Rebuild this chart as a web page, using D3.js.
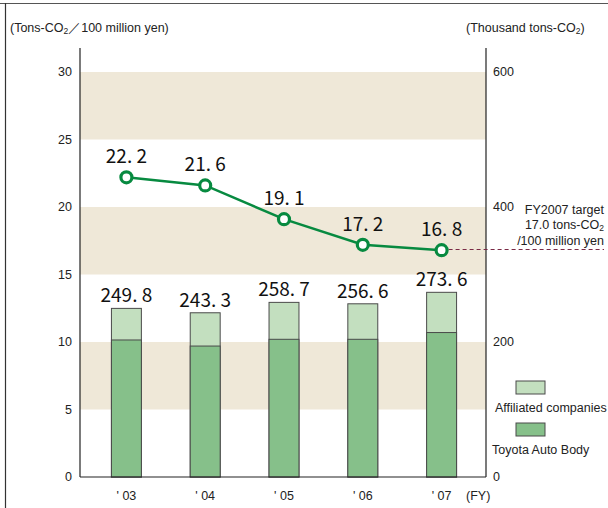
<!DOCTYPE html>
<html>
<head>
<meta charset="utf-8">
<script src="https://cdn.jsdelivr.net/npm/d3@7/dist/d3.min.js"></script>
<style>
  body { margin: 0; background: #fff; }
  svg { display: block; }
</style>
</head>
<body>
<svg id="chart"></svg>
<script>

// data
var years = ["03", "04", "05", "06", "07"];
var totalEmissions = [249.8, 243.3, 258.7, 256.6, 273.6];   // thousand tons-CO2
var toyotaAutoBody = [203, 194, 204, 204, 214];              // lower part of each bar
var intensity = [22.2, 21.6, 19.1, 17.2, 16.8];              // tons-CO2 / 100 million yen
var leftTicks = [0, 5, 10, 15, 20, 25, 30];
var rightTicks = [0, 200, 400, 600];
var bandRanges = [[5, 10], [15, 20], [25, 30]];
var target = 17.0;

var svgWidth = 608;
var svgHeight = 508;

var svg = d3.select("#chart")
    .attr("width", svgWidth)
    .attr("height", svgHeight);

var plotLeft = 80, plotRight = 486, plotTop = 72, plotBottom = 477;

var xScale = d3.scaleBand()
    .domain(years)
    .range([87, 481])
    .paddingInner(0.62)
    .paddingOuter(0.31);

var yLeft = d3.scaleLinear().domain([0, 30]).range([plotBottom, plotTop]);
var yRight = d3.scaleLinear().domain([0, 600]).range([plotBottom, plotTop]);

var numFont = "'Noto Sans CJK JP', 'DejaVu Sans', sans-serif";
var txtFont = "'Liberation Sans', Arial, sans-serif";
var txtSize = 12.5;

function fmt(v) {
    // labels in the picture show the decimal as ". " (wide gap)
    return v.toFixed(1).replace(".", ". ");
}

//frame lines (top and left only)
svg.append("line").attr("x1", 0).attr("x2", svgWidth).attr("y1", 3.5).attr("y2", 3.5)
    .attr("stroke", "#555").attr("stroke-width", 1);
svg.append("line").attr("x1", 5.5).attr("x2", 5.5).attr("y1", 3).attr("y2", svgHeight)
    .attr("stroke", "#333").attr("stroke-width", 1.2);

//background bands
svg.selectAll("rect.band")
    .data(bandRanges)
    .enter()
    .append("rect")
    .attr("class", "band")
    .attr("x", plotLeft)
    .attr("width", plotRight - plotLeft)
    .attr("y", d => yLeft(d[1]))
    .attr("height", d => yLeft(d[0]) - yLeft(d[1]))
    .attr("fill", "#efe8d8");

//bars - total (affiliated on top)
svg.selectAll("rect.total")
    .data(years)
    .enter()
    .append("rect")
    .attr("class", "total")
    .attr("x", d => xScale(d))
    .attr("width", xScale.bandwidth())
    .attr("y", (d, i) => yRight(totalEmissions[i]))
    .attr("height", (d, i) => plotBottom - yRight(totalEmissions[i]))
    .attr("fill", "#c3dfbf")
    .attr("stroke", "#4a4a4a")
    .attr("stroke-width", 1);

svg.selectAll("rect.own")
    .data(years)
    .enter()
    .append("rect")
    .attr("class", "own")
    .attr("x", d => xScale(d))
    .attr("width", xScale.bandwidth())
    .attr("y", (d, i) => yRight(toyotaAutoBody[i]))
    .attr("height", (d, i) => plotBottom - yRight(toyotaAutoBody[i]))
    .attr("fill", "#86c08a")
    .attr("stroke", "#4a4a4a")
    .attr("stroke-width", 1);

//bar labels
svg.selectAll("text.barval")
    .data(years)
    .enter()
    .append("text")
    .attr("x", d => xScale(d) + xScale.bandwidth() / 2)
    .attr("y", (d, i) => yRight(totalEmissions[i]) - 6)
    .attr("text-anchor", "middle")
    .attr("font-family", numFont)
    .attr("font-size", 19)
    .attr("fill", "#111")
    .style("white-space", "pre")
    .text((d, i) => fmt(totalEmissions[i]));

//axes
svg.append("line").attr("x1", plotLeft).attr("x2", plotLeft).attr("y1", 48).attr("y2", plotBottom)
    .attr("stroke", "#222").attr("stroke-width", 1.2);
svg.append("line").attr("x1", plotRight).attr("x2", plotRight).attr("y1", 48).attr("y2", plotBottom)
    .attr("stroke", "#222").attr("stroke-width", 1.2);
svg.append("line").attr("x1", plotLeft).attr("x2", plotRight).attr("y1", plotBottom).attr("y2", plotBottom)
    .attr("stroke", "#222").attr("stroke-width", 1.2);

svg.selectAll("text.lt")
    .data(leftTicks)
    .enter()
    .append("text")
    .attr("x", 72)
    .attr("y", d => yLeft(d) + 4)
    .attr("text-anchor", "end")
    .attr("font-family", txtFont)
    .attr("font-size", txtSize)
    .attr("fill", "#222")
    .text(d => d);

svg.selectAll("text.rt")
    .data(rightTicks)
    .enter()
    .append("text")
    .attr("x", 493)
    .attr("y", d => yRight(d) + 4)
    .attr("font-family", txtFont)
    .attr("font-size", txtSize)
    .attr("fill", "#222")
    .text(d => d);

svg.selectAll("text.xl")
    .data(years)
    .enter()
    .append("text")
    .attr("x", d => xScale(d) + xScale.bandwidth() / 2)
    .attr("y", 500)
    .attr("text-anchor", "middle")
    .attr("font-family", txtFont)
    .attr("font-size", txtSize)
    .attr("fill", "#222")
    .style("white-space", "pre")
    .text(d => "' " + d);

svg.append("text").attr("x", 466).attr("y", 500)
    .attr("font-family", txtFont).attr("font-size", txtSize).attr("fill", "#222")
    .text("(FY)");

//axis titles
var t1 = svg.append("text").attr("x", 10).attr("y", 32)
    .attr("font-family", txtFont).attr("font-size", txtSize).attr("fill", "#222");
t1.append("tspan").text("(Tons-CO");
t1.append("tspan").attr("font-size", 8.5).attr("dy", 2).text("2");
t1.append("tspan").attr("dy", -2).text("／100 million yen)");

var t2 = svg.append("text").attr("x", 466).attr("y", 32)
    .attr("font-family", txtFont).attr("font-size", txtSize).attr("fill", "#222");
t2.append("tspan").text("(Thousand tons-CO");
t2.append("tspan").attr("font-size", 8.5).attr("dy", 2).text("2");
t2.append("tspan").attr("dy", -2).text(")");

//target dashed line
var lastX = xScale(years[4]) + xScale.bandwidth() / 2;
svg.append("line")
    .attr("x1", lastX).attr("x2", 604)
    .attr("y1", yLeft(target) + 2).attr("y2", yLeft(target) + 2)
    .attr("stroke", "#7a2a45").attr("stroke-width", 1)
    .attr("stroke-dasharray", "4,3");

var tg = svg.append("text").attr("text-anchor", "end")
    .attr("font-family", txtFont).attr("font-size", txtSize).attr("fill", "#222");
tg.append("tspan").attr("x", 604).attr("y", 214).text("FY2007 target");
var l2 = tg.append("tspan").attr("x", 604).attr("y", 229);
l2.append("tspan").text("17.0 tons-CO");
l2.append("tspan").attr("font-size", 8.5).attr("dy", 2).text("2");
tg.append("tspan").attr("x", 604).attr("y", 245).text("/100 million yen");

//intensity line
var line = d3.line()
    .x(d => xScale(d.y) + xScale.bandwidth() / 2)
    .y(d => yLeft(d.v));

var pts = years.map((y, i) => ({y: y, v: intensity[i]}));

svg.append("path")
    .datum(pts)
    .attr("d", line)
    .attr("fill", "none")
    .attr("stroke", "#078a40")
    .attr("stroke-width", 2.5);

svg.selectAll("circle.pt")
    .data(pts)
    .enter()
    .append("circle")
    .attr("cx", d => xScale(d.y) + xScale.bandwidth() / 2)
    .attr("cy", d => yLeft(d.v))
    .attr("r", 5.5)
    .attr("fill", "#fff")
    .attr("stroke", "#078a40")
    .attr("stroke-width", 3.2);

svg.selectAll("text.ptval")
    .data(pts)
    .enter()
    .append("text")
    .attr("x", d => xScale(d.y) + xScale.bandwidth() / 2)
    .attr("y", d => yLeft(d.v) - 14)
    .attr("text-anchor", "middle")
    .attr("font-family", numFont)
    .attr("font-size", 19)
    .attr("fill", "#111")
    .style("white-space", "pre")
    .text(d => fmt(d.v));

//legend
svg.append("rect").attr("x", 516).attr("y", 381).attr("width", 29).attr("height", 13)
    .attr("fill", "#c3dfbf").attr("stroke", "#4a4a4a");
svg.append("text").attr("x", 495).attr("y", 412)
    .attr("font-family", txtFont).attr("font-size", txtSize).attr("fill", "#222")
    .text("Affiliated companies");
svg.append("rect").attr("x", 516).attr("y", 423).attr("width", 29).attr("height", 13)
    .attr("fill", "#86c08a").attr("stroke", "#4a4a4a");
svg.append("text").attr("x", 492).attr("y", 454)
    .attr("font-family", txtFont).attr("font-size", txtSize).attr("fill", "#222")
    .text("Toyota Auto Body");

</script>
</body>
</html>
